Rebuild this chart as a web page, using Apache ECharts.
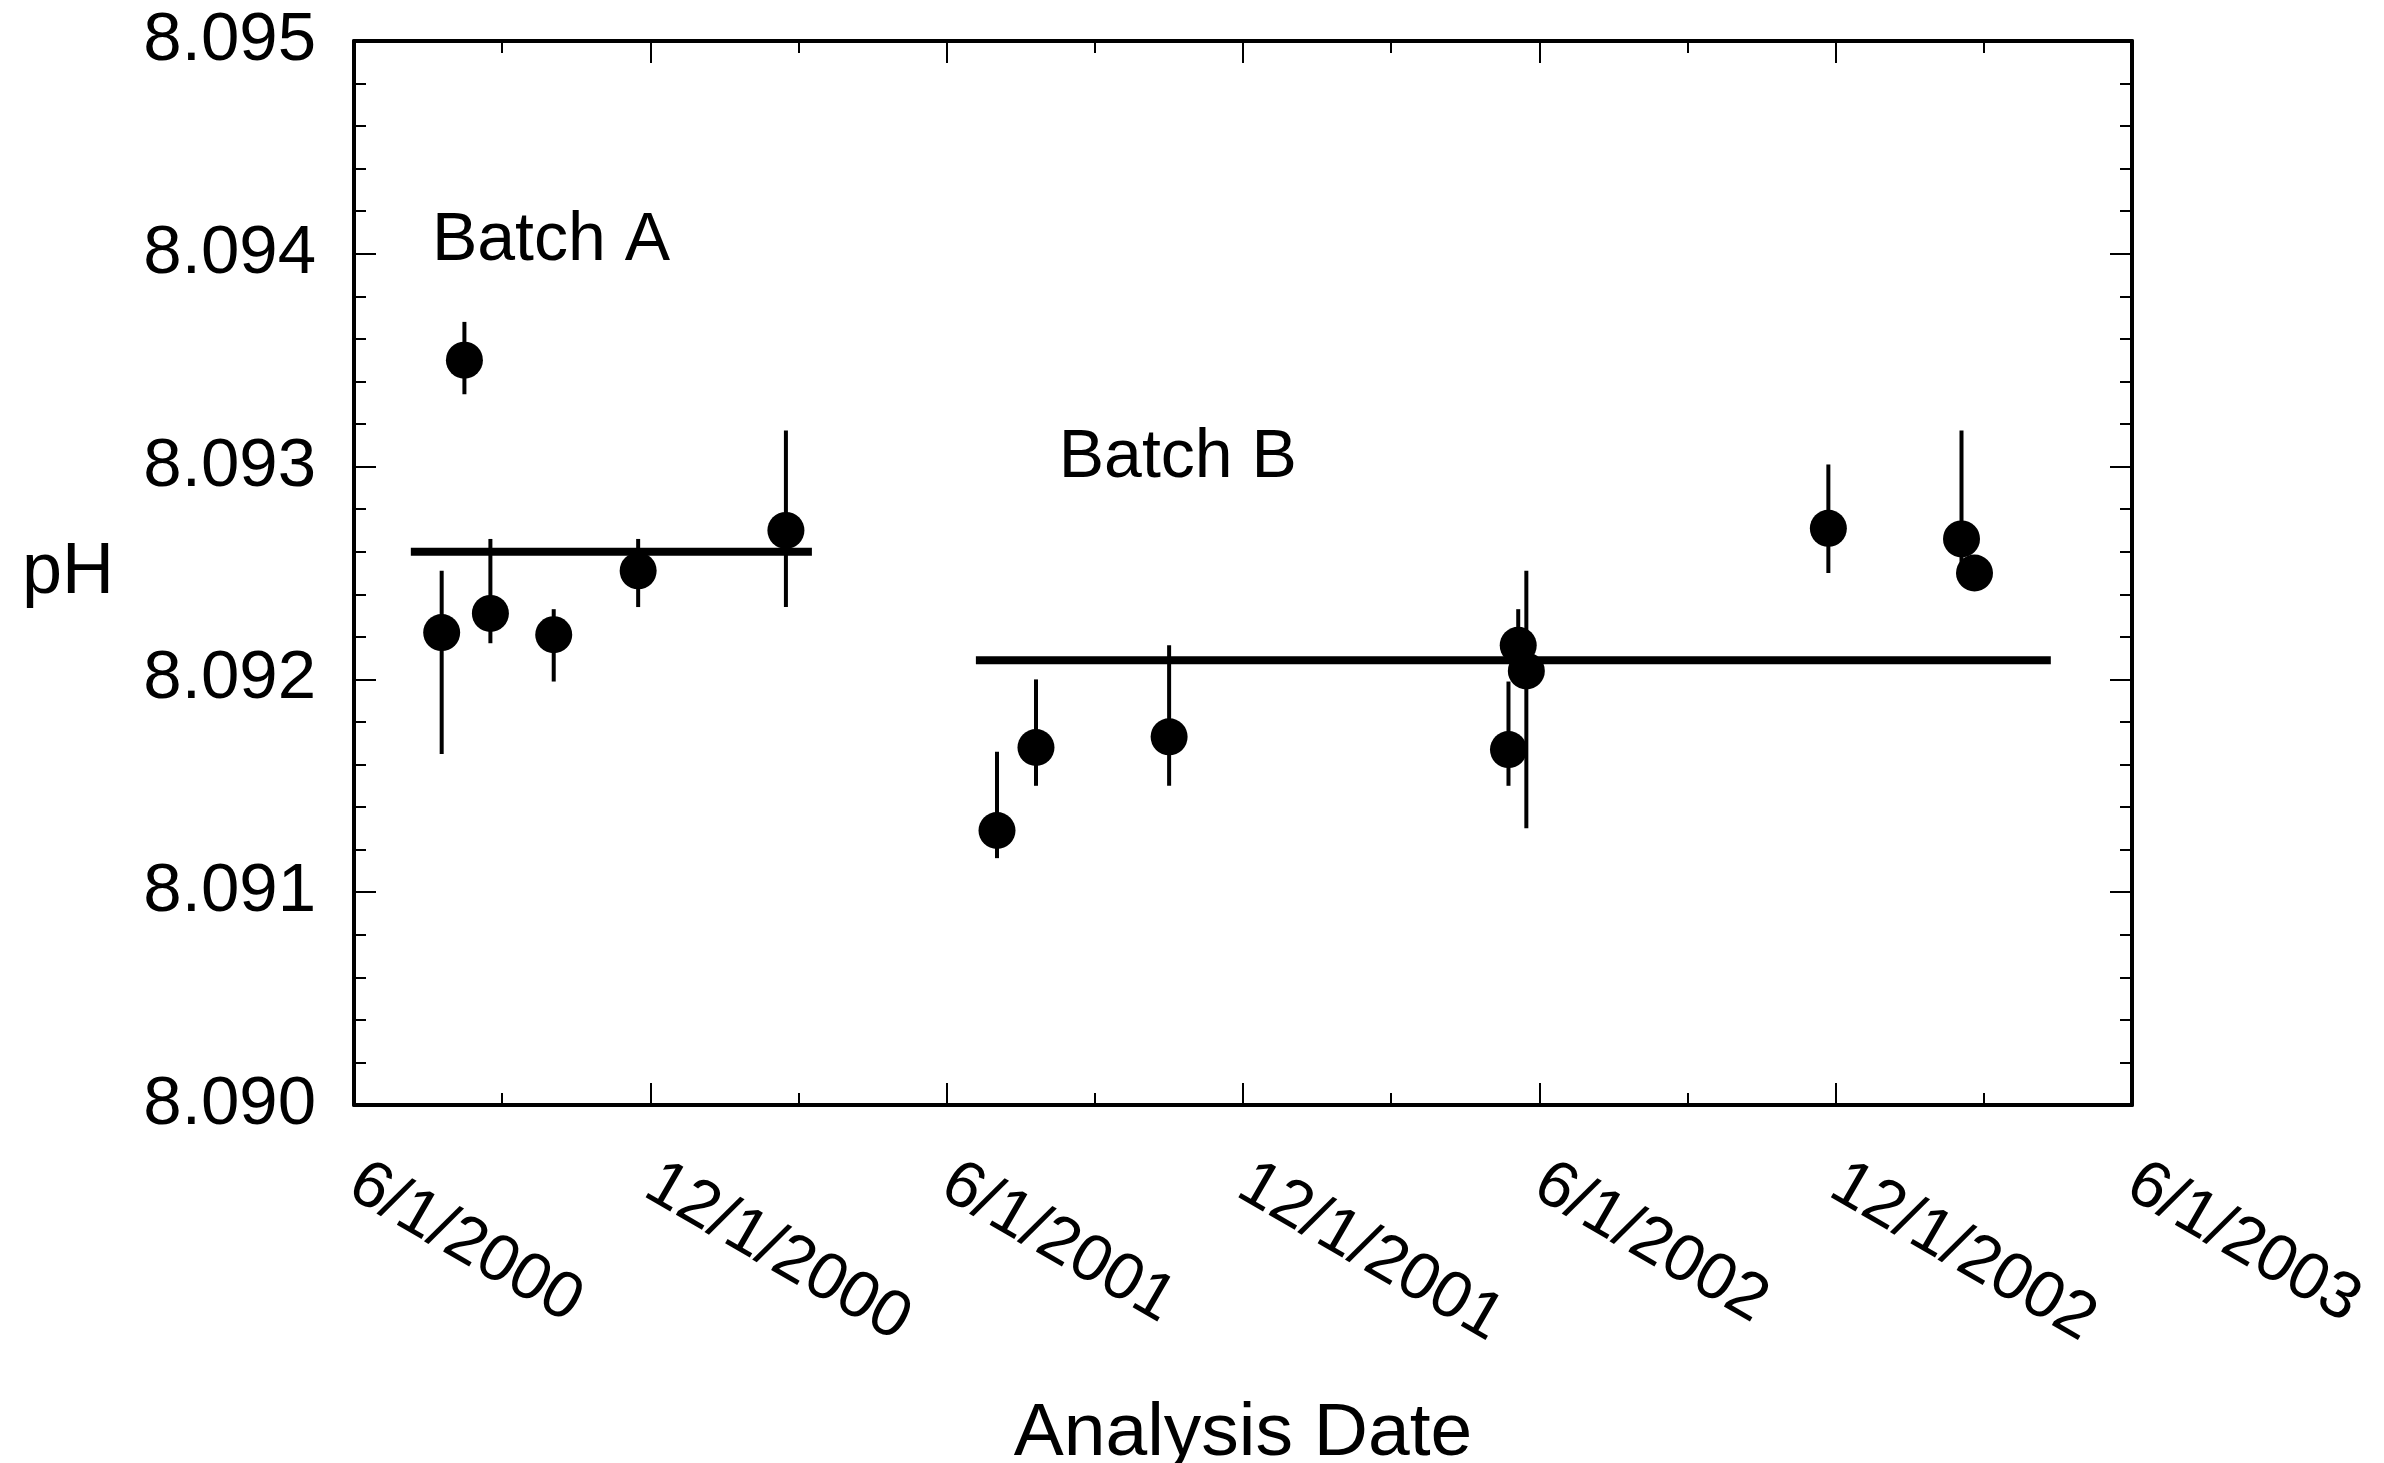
<!DOCTYPE html>
<html>
<head>
<meta charset="utf-8">
<script src="https://cdn.jsdelivr.net/npm/echarts@6/dist/echarts.min.js"></script>
<style>
    html, body { margin: 0; padding: 0; background: #fff; }
    #chart { width: 2384px; height: 1463px; }
</style>
</head>
<body>
<div id="chart"></div>
<script>
    // tick labels
    var xTickLabels = ['6/1/2000', '12/1/2000', '6/1/2001', '12/1/2001', '6/1/2002', '12/1/2002', '6/1/2003'];

    // Batch A measurements
    var batchADates = ['2000-07-25', '2000-08-08', '2000-08-24', '2000-10-02', '2000-11-23', '2001-02-22'];
    var batchAPH = [8.09222, 8.09350, 8.09231, 8.09221, 8.09251, 8.09270];
    var batchALow = [8.09165, 8.09334, 8.09217, 8.09199, 8.09234, 8.09234];
    var batchAHigh = [8.09251, 8.09368, 8.09266, 8.09233, 8.09266, 8.09317];

    // Batch B measurements
    var batchBDates = ['2001-07-02', '2001-07-26', '2001-10-16', '2002-05-13', '2002-05-19', '2002-05-24', '2002-11-26', '2003-02-16', '2003-02-24'];
    var batchBPH = [8.09129, 8.09168, 8.09173, 8.09167, 8.09216, 8.09204, 8.09271, 8.09266, 8.09250];
    var batchBLow = [8.09116, 8.09150, 8.09150, 8.09150, 8.09200, 8.09130, 8.09250, 8.09250, 8.09244];
    var batchBHigh = [8.09166, 8.09200, 8.09216, 8.09199, 8.09233, 8.09251, 8.09301, 8.09317, 8.09256];

    // batch means
    var meanADates = ['2000-07-06', '2001-03-10'];
    var meanAValue = 8.09260;
    var meanBDates = ['2001-06-19', '2003-04-12'];
    var meanBValue = 8.09209;

    // annotations
    var batchNames = ['Batch A', 'Batch B'];
    var batchNameDates = ['2000-07-19', '2001-08-09'];
    var batchNameValues = [8.09406, 8.09304];

    var FONT = '"Liberation Sans", Arial, Helvetica, sans-serif';
    var START = Date.parse('2000-06-01');
    var HALF_YEAR = 182.5;

    function dayOf(s) {
        return (Date.parse(s) - START) / 86400000;
    }

    function points(dates, vals) {
        return dates.map(function (d, i) { return [dayOf(d), vals[i]]; });
    }

    function bars(dates, low, high) {
        return dates.map(function (d, i) { return [dayOf(d), low[i], high[i]]; });
    }

    function renderBar(params, api) {
        var top = api.coord([api.value(0), api.value(2)]);
        var bot = api.coord([api.value(0), api.value(1)]);
        return {
            type: 'line',
            shape: {x1: top[0], y1: top[1], x2: bot[0], y2: bot[1]},
            style: {stroke: '#000', lineWidth: 4}
        };
    }

    var xBase = {
        type: 'value',
        min: 0,
        max: HALF_YEAR * 6,
        interval: HALF_YEAR,
        splitLine: {show: false},
        axisLine: {show: true, onZero: false, lineStyle: {color: '#000', width: 4}},
        axisTick: {show: true, inside: true, length: 22, lineStyle: {color: '#000', width: 2}},
        minorTick: {show: true, splitNumber: 2, length: 12, lineStyle: {color: '#000', width: 2}}
    };
    var yBase = {
        type: 'value',
        min: 8.090,
        max: 8.095,
        interval: 0.001,
        splitLine: {show: false},
        axisLine: {show: true, onZero: false, lineStyle: {color: '#000', width: 4}},
        axisTick: {show: true, inside: true, length: 22, lineStyle: {color: '#000', width: 2}},
        minorTick: {show: true, splitNumber: 5, length: 12, lineStyle: {color: '#000', width: 2}}
    };

    var option = {
        backgroundColor: '#fff',
        animation: false,
        grid: {left: 354, right: 252, top: 41, bottom: 358, containLabel: false, outerBoundsMode: 'none'},
        xAxis: [
            Object.assign({}, xBase, {
                position: 'bottom',
                name: 'Analysis Date',
                nameLocation: 'middle',
                nameGap: 292,
                nameTextStyle: {fontFamily: FONT, fontSize: 75, color: '#000'},
                axisLabel: {
                    rotate: -30,
                    margin: 74,
                    fontFamily: FONT,
                    fontSize: 66,
                    color: '#000',
                    formatter: function (v) { return xTickLabels[Math.round(v / HALF_YEAR)]; }
                }
            }),
            Object.assign({}, xBase, {position: 'top', axisLabel: {show: false}})
        ],
        yAxis: [
            Object.assign({}, yBase, {
                position: 'left',
                name: 'pH',
                nameLocation: 'middle',
                nameRotate: 0,
                nameGap: 240,
                nameTextStyle: {fontFamily: FONT, fontSize: 72, color: '#000'},
                axisLabel: {
                    margin: 38,
                    fontFamily: FONT,
                    fontSize: 69,
                    color: '#000',
                    formatter: function (v) { return v.toFixed(3); }
                }
            }),
            Object.assign({}, yBase, {position: 'right', axisLabel: {show: false}})
        ],
        series: [
            {
                type: 'line',
                data: points(meanADates, [meanAValue, meanAValue]),
                symbol: 'none',
                lineStyle: {color: '#000', width: 8},
                z: 3
            },
            {
                type: 'line',
                data: points(meanBDates, [meanBValue, meanBValue]),
                symbol: 'none',
                lineStyle: {color: '#000', width: 8},
                z: 3
            },
            {
                type: 'custom',
                renderItem: renderBar,
                data: bars(batchADates, batchALow, batchAHigh),
                z: 4
            },
            {
                type: 'custom',
                renderItem: renderBar,
                data: bars(batchBDates, batchBLow, batchBHigh),
                z: 4
            },
            {
                type: 'scatter',
                data: points(batchADates, batchAPH),
                symbol: 'circle',
                symbolSize: 37,
                itemStyle: {color: '#000', opacity: 1},
                z: 5
            },
            {
                type: 'scatter',
                data: points(batchBDates, batchBPH),
                symbol: 'circle',
                symbolSize: 37,
                itemStyle: {color: '#000', opacity: 1},
                z: 5
            },
            {
                // text labels, bound to the mirrored top/right axes (same scales)
                type: 'scatter',
                xAxisIndex: 1,
                yAxisIndex: 1,
                symbolSize: 0,
                itemStyle: {opacity: 1},
                data: batchNames.map(function (n, i) {
                    return {name: n, value: [dayOf(batchNameDates[i]), batchNameValues[i]]};
                }),
                label: {
                    show: true,
                    position: [0, 0],
                    align: 'left',
                    verticalAlign: 'middle',
                    formatter: '{b}',
                    fontFamily: FONT,
                    fontSize: 68,
                    color: '#000',
                    opacity: 1
                },
                z: 6
            }
        ]
    };

    var chart = echarts.init(document.getElementById('chart'));
    chart.setOption(option);
    window.addEventListener('resize', function () {
        chart.resize();
    });
</script>
</body>
</html>
